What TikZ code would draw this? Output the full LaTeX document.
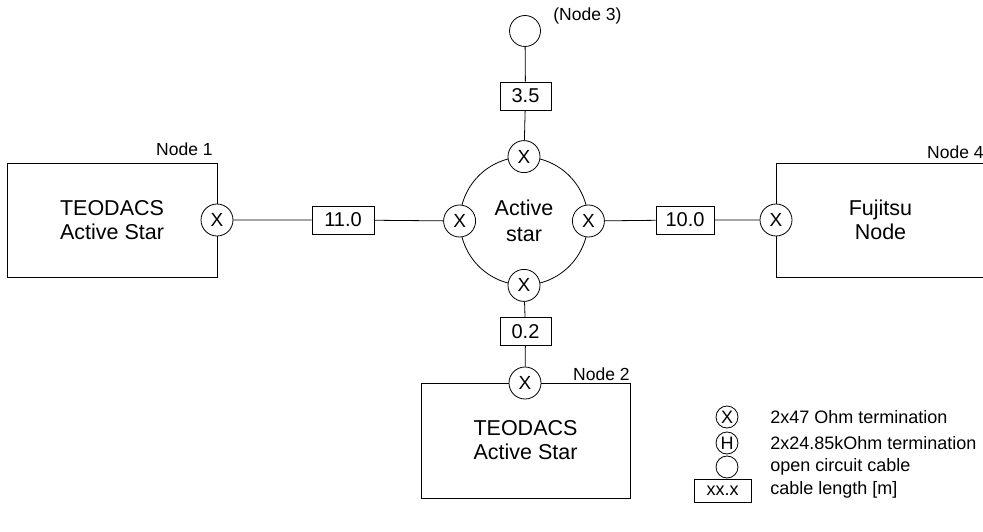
\documentclass[tikz,border=0pt]{standalone}
\usepackage{fontspec}
\setmainfont{Liberation Sans}
\begin{document}
\begin{tikzpicture}[x=1pt,y=-1pt,
  line width=0.8pt,
  term/.style={draw,circle,minimum size=32pt,inner sep=0pt,fill=white,font=\fontsize{19}{19}\selectfont},
  lterm/.style={draw,circle,minimum size=22pt,inner sep=0pt,fill=white,font=\fontsize{18}{18}\selectfont},
  cable/.style={draw,rectangle,minimum width=62pt,minimum height=28pt,inner sep=0pt,fill=white,font=\fontsize{20}{20}\selectfont},
  dev/.style={draw,rectangle,inner sep=0pt,align=center,font=\fontsize{21.5}{24}\selectfont},
  lbl/.style={font=\fontsize{17.5}{18}\selectfont,inner sep=0pt},
  leg/.style={font=\fontsize{18}{18}\selectfont,inner sep=0pt,anchor=west}]
\useasboundingbox (0,0) rectangle (983,532);
\clip (0,0) rectangle (983,532);
% devices
\node[dev,minimum width=210pt,minimum height=114pt] (n1) at (112,220) {TEODACS\\Active Star};
\node[dev,minimum width=209pt,minimum height=115pt] (n2) at (525.5,440.5) {TEODACS\\Active Star};
\node[dev,minimum width=209pt,minimum height=114pt] (n4) at (880.5,220) {Fujitsu\\Node};
\node[lbl,anchor=base east] (l1) at (213,156) {Node 1};
\node[lbl,anchor=base east] (l2) at (630,380) {Node 2};
\node[lbl,anchor=base east] (l4) at (984,159) {Node 4};
% active star
\node[draw,circle,minimum size=128pt,inner sep=0pt,align=center,font=\fontsize{21.5}{26}\selectfont] (as) at (524,221) {Active\\star};
% terminations
\node[term] (t1) at (217,220) {X};
\node[term] (sl) at (as.west) {X};
\node[term] (sr) at (as.east) {X};
\node[term] (st) at (as.north) {X};
\node[term] (sb) at (as.south) {X};
\node[term] (t2) at (525,383) {X};
\node[term] (t4) at (776,220) {X};
% open circuit node 3
\node[draw,circle,minimum size=31pt,inner sep=0pt] (n3) at (525,31) {};
\node[lbl,anchor=west] (l3) at (553,16) {(Node 3)};
% cables
\node[cable] (c1) at (343,220) {11.0};
\node[cable,minimum width=58pt] (c4) at (685,220) {10.0};
\node[cable,minimum width=51pt] (c3) at (525.5,96) {3.5};
\node[cable,minimum width=51pt] (c2) at (525.5,331.5) {0.2};
% connectors
\draw (t1) -- (c1) -- (sl);
\draw (sr) -- (c4) -- (t4);
\draw (n3) -- (c3) -- (st);
\draw (sb) -- (c2) -- (t2);
% legend
\node[lterm] (lx) at (727,417) {X};
\node[lterm] (lh) at (727,443) {H};
\node[lterm] (lo) at (727,467) {};
\node[draw,rectangle,minimum width=57pt,minimum height=23pt,inner sep=0pt,font=\fontsize{18}{18}\selectfont] (lc) at (722.5,490.5) {xx.x};
\node[leg] (tx) at (770,417) {2x47 Ohm termination};
\node[leg] (th) at (770,443) {2x24.85kOhm termination};
\node[leg] (to) at (770,467) {open circuit cable};
\node[leg] (tc) at (770,490) {cable length [m]};
\end{tikzpicture}
\end{document}
